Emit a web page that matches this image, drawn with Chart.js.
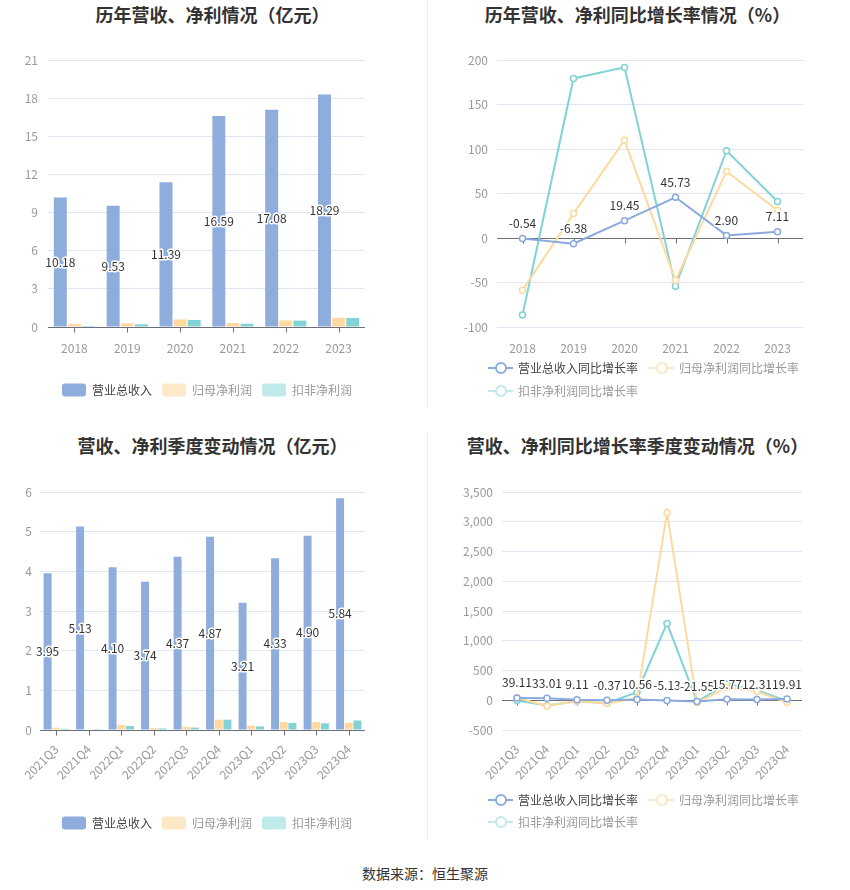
<!DOCTYPE html>
<html>
<head>
<meta charset="utf-8">
<script src="https://cdn.jsdelivr.net/npm/chart.js@4.4.1/dist/chart.umd.min.js"></script>
<style>
  body { margin: 0; background: #fff; width: 850px; height: 890px; position: relative; overflow: hidden;
         font-family: "Noto Sans CJK SC", sans-serif; }
  .title { position: absolute; width: 425px; text-align: center; font-size: 18px; font-weight: bold;
           color: #333; line-height: 18px; }
  .panel { position: absolute; }
  .divider { position: absolute; left: 427px; width: 1px; background: #eeeeee; }
  #source { position: absolute; left: 0; top: 866px; width: 850px; text-align: center; font-size: 14px;
            line-height: 14px; color: #333; }
</style>
</head>
<body>
<div class="title" style="left:0;top:5px">历年营收、净利情况（亿元）</div>
<div class="title" style="left:425px;top:5px">历年营收、净利同比增长率情况（%）</div>
<div class="title" style="left:0;top:436px">营收、净利季度变动情况（亿元）</div>
<div class="title" style="left:425px;top:436px">营收、净利同比增长率季度变动情况（%）</div>
<div class="divider" style="top:0;height:408px"></div>
<div class="divider" style="top:432px;height:408px"></div>

<canvas id="yearBar" class="panel" width="425" height="370" style="left:0;top:40px"></canvas>
<canvas id="yearLine" class="panel" width="425" height="370" style="left:425px;top:40px"></canvas>
<canvas id="quarterBar" class="panel" width="425" height="370" style="left:0;top:470px"></canvas>
<canvas id="quarterLine" class="panel" width="425" height="370" style="left:425px;top:470px"></canvas>

<div id="source">数据来源：恒生聚源</div>

<script>
// ---- data ----
const years = ['2018', '2019', '2020', '2021', '2022', '2023'];
const yearRevenue = [10.18, 9.53, 11.39, 16.59, 17.08, 18.29];
const yearNetProfit = [0.24, 0.29, 0.60, 0.31, 0.52, 0.73];
const yearDeductedProfit = [0.08, 0.21, 0.55, 0.26, 0.50, 0.71];
const yearRevenueGrowth = [-0.54, -6.38, 19.45, 45.73, 2.90, 7.11];
const yearNetProfitGrowth = [-58.6, 27.4, 109.8, -47.4, 74.8, 31.2];
const yearDeductedGrowth = [-86.5, 179.3, 191.7, -54.1, 98.1, 41.0];

const quarters = ['2021Q3', '2021Q4', '2022Q1', '2022Q2', '2022Q3', '2022Q4', '2023Q1', '2023Q2', '2023Q3', '2023Q4'];
const quarterRevenue = [3.95, 5.13, 4.10, 3.74, 4.37, 4.87, 3.21, 4.33, 4.90, 5.84];
const quarterNetProfit = [0.06, 0.01, 0.13, 0.05, 0.08, 0.26, 0.11, 0.20, 0.20, 0.18];
const quarterDeductedProfit = [0.03, 0.02, 0.10, 0.04, 0.06, 0.26, 0.09, 0.18, 0.17, 0.24];
const quarterRevenueGrowth = [39.11, 33.01, 9.11, -0.37, 10.56, -5.13, -21.55, 15.77, 12.31, 19.91];
const quarterNetProfitGrowth = [40, -95, -11, -56, 34, 3152, -39, 213, 146, -39];
const quarterDeductedGrowth = [-5, -90, -17, -50, 135, 1292, -22, 275, 169, -11];

const barLabels = ['营业总收入', '归母净利润', '扣非净利润'];
const lineLabels = ['营业总收入同比增长率', '归母净利润同比增长率', '扣非净利润同比增长率'];

const FONT = '"Noto Sans CJK SC", sans-serif';
Chart.defaults.font.family = FONT;
Chart.defaults.font.size = 12;
Chart.defaults.color = '#999';

// value labels for the first series
const valueLabels = {
  id: 'valueLabels',
  afterDatasetsDraw(chart, args, opts) {
    const ctx = chart.ctx;
    const meta = chart.getDatasetMeta(0);
    const values = chart.data.datasets[0].data;
    ctx.save();
    ctx.font = '12px ' + FONT;
    ctx.textAlign = 'center';
    ctx.textBaseline = 'middle';
    ctx.lineJoin = 'round';
    ctx.lineWidth = 3;
    ctx.strokeStyle = '#fff';
    ctx.fillStyle = '#333';
    meta.data.forEach((el, i) => {
      const p = el.getProps(['x', 'y', 'base'], true);
      const ly = opts.position === 'center' ? (p.y + p.base) / 2 : p.y - 15;
      const text = values[i].toFixed(2);
      ctx.strokeText(text, p.x, ly);
      ctx.fillText(text, p.x, ly);
    });
    ctx.restore();
  }
};

// axis line at zero with small ticks under each category
const zeroAxis = {
  id: 'zeroAxis',
  beforeDatasetsDraw(chart) {
    const {ctx, chartArea, scales} = chart;
    const py = Math.round(scales.y.getPixelForValue(0)) + 0.5;
    ctx.save();
    ctx.strokeStyle = '#6E7079';
    ctx.lineWidth = 1;
    ctx.beginPath();
    ctx.moveTo(chartArea.left, py);
    ctx.lineTo(chartArea.right, py);
    scales.x.ticks.forEach((t, i) => {
      const px = Math.round(scales.x.getPixelForTick(i)) + 0.5;
      ctx.moveTo(px, py);
      ctx.lineTo(px, py + 5);
    });
    ctx.stroke();
    ctx.restore();
  }
};

function drawMarker(ctx, kind, x, y, color) {
  ctx.save();
  if (kind === 'rect') {
    ctx.fillStyle = color;
    ctx.beginPath();
    ctx.roundRect(x, y - 6.5, 24, 13, 3);
    ctx.fill();
  } else {
    ctx.strokeStyle = color;
    ctx.lineWidth = 2;
    ctx.beginPath();
    ctx.moveTo(x, y);
    ctx.lineTo(x + 25, y);
    ctx.stroke();
    ctx.fillStyle = '#fff';
    ctx.beginPath();
    ctx.arc(x + 13, y, 5, 0, Math.PI * 2);
    ctx.fill();
    ctx.stroke();
  }
  ctx.restore();
}

// legend laid out like the reference (wrapping rows start at the same x)
const flowLegend = {
  id: 'flowLegend',
  afterDraw(chart, args, opts) {
    const ctx = chart.ctx;
    const mw = opts.marker === 'rect' ? 24 : 25;
    const gap = opts.marker === 'rect' ? 6 : 5;
    ctx.save();
    ctx.font = '12px ' + FONT;
    ctx.textBaseline = 'middle';
    const items = chart.data.datasets.map(ds => ({ds, w: mw + gap + ctx.measureText(ds.label).width}));
    const rows = [[]];
    let rowW = 0;
    items.forEach(it => {
      const row = rows[rows.length - 1];
      const add = (row.length ? opts.itemGap : 0) + it.w;
      if (row.length && opts.maxWidth && rowW + add > opts.maxWidth) {
        rows.push([it]);
        rowW = it.w;
      } else {
        row.push(it);
        rowW += add;
      }
    });
    rows.forEach((row, r) => {
      const total = row.reduce((s, it) => s + it.w, 0) + opts.itemGap * (row.length - 1);
      let x = opts.align === 'center' ? opts.x - total / 2 : opts.x;
      const y = opts.y + r * opts.rowHeight;
      row.forEach(it => {
        drawMarker(ctx, opts.marker, x, y, it.ds.legendColor);
        ctx.fillStyle = it.ds.legendTextColor;
        ctx.fillText(it.ds.label, x + mw + gap, y);
        x += it.w + opts.itemGap;
      });
    });
    ctx.restore();
  }
};

const colors = ['#8eacdc', '#ffd9a0', '#82d3d6'];
const lineColors = ['#8aa9dd', '#ffd99e', '#7fd3d6'];
const legendColors = ['#8eacdc', '#fde8c8', '#c0e9ea'];
const lineLegendColors = ['#8aa9dd', '#fde6c4', '#bfe9ea'];
const legendText = ['#444', '#999', '#999'];

function barSets(series) {
  return series.map((d, i) => ({
    label: barLabels[i],
    data: d,
    backgroundColor: colors[i],
    categoryPercentage: 0.8,
    barPercentage: 0.92,
    legendColor: legendColors[i],
    legendTextColor: legendText[i]
  }));
}

function lineSets(series) {
  return series.map((d, i) => ({
    label: lineLabels[i],
    data: d,
    borderColor: lineColors[i],
    borderWidth: 2,
    pointRadius: 3,
    pointBorderWidth: 1.5,
    pointBackgroundColor: '#fff',
    pointBorderColor: lineColors[i],
    tension: 0,
    legendColor: lineLegendColors[i],
    legendTextColor: legendText[i]
  }));
}

function makeChart(id, type, labels, datasets, cfg) {
  return new Chart(document.getElementById(id), {
    type: type,
    data: {labels: labels, datasets: datasets},
    plugins: [zeroAxis, valueLabels, flowLegend],
    options: {
      responsive: false,
      animation: false,
      layout: {padding: {left: 0, top: cfg.top, right: cfg.right, bottom: cfg.bottom}},
      plugins: {
        legend: {display: false},
        tooltip: {enabled: false},
        valueLabels: {position: type === 'bar' ? 'center' : 'top'},
        flowLegend: cfg.legend
      },
      scales: {
        x: {
          offset: true,
          grid: {display: false},
          border: {display: false},
          ticks: {
            color: '#999',
            padding: cfg.xPad,
            autoSkip: false,
            maxRotation: cfg.rotate,
            minRotation: cfg.rotate
          },
          afterFit(s) { s.height = cfg.xHeight; }
        },
        y: {
          min: cfg.min,
          max: cfg.max,
          grid: {color: '#e0e6f1', drawTicks: false},
          border: {display: false},
          ticks: {
            stepSize: cfg.step,
            padding: cfg.yPad,
            color: '#999',
            callback: v => v.toLocaleString('en-US')
          },
          afterFit(s) { s.width = cfg.yWidth; }
        }
      }
    }
  });
}

makeChart('yearBar', 'bar', years,
  barSets([yearRevenue, yearNetProfit, yearDeductedProfit]),
  {top: 20, right: 60, bottom: 43, xHeight: 40, xPad: 6, rotate: 0, yWidth: 48, yPad: 10,
   min: 0, max: 21, step: 3,
   legend: {marker: 'rect', align: 'center', x: 207, y: 350, itemGap: 10, rowHeight: 23}});

makeChart('yearLine', 'line', years,
  lineSets([yearRevenueGrowth, yearNetProfitGrowth, yearDeductedGrowth]),
  {top: 20, right: 47, bottom: 43, xHeight: 40, xPad: 6, rotate: 0, yWidth: 72, yPad: 9,
   min: -100, max: 200, step: 50,
   legend: {marker: 'line', align: 'start', x: 63, y: 328, itemGap: 11, rowHeight: 23, maxWidth: 340}});

makeChart('quarterBar', 'bar', quarters,
  barSets([quarterRevenue, quarterNetProfit, quarterDeductedProfit]),
  {top: 22, right: 60, bottom: 50, xHeight: 60, xPad: 4, rotate: 45, yWidth: 40, yPad: 8,
   min: 0, max: 6, step: 1,
   legend: {marker: 'rect', align: 'center', x: 207, y: 353, itemGap: 10, rowHeight: 23}});

makeChart('quarterLine', 'line', quarters,
  lineSets([quarterRevenueGrowth, quarterNetProfitGrowth, quarterDeductedGrowth]),
  {top: 22, right: 48, bottom: 50, xHeight: 60, xPad: 4, rotate: 45, yWidth: 77, yPad: 9,
   min: -500, max: 3500, step: 500,
   legend: {marker: 'line', align: 'start', x: 63, y: 330, itemGap: 11, rowHeight: 22, maxWidth: 340}});
</script>
</body>
</html>
